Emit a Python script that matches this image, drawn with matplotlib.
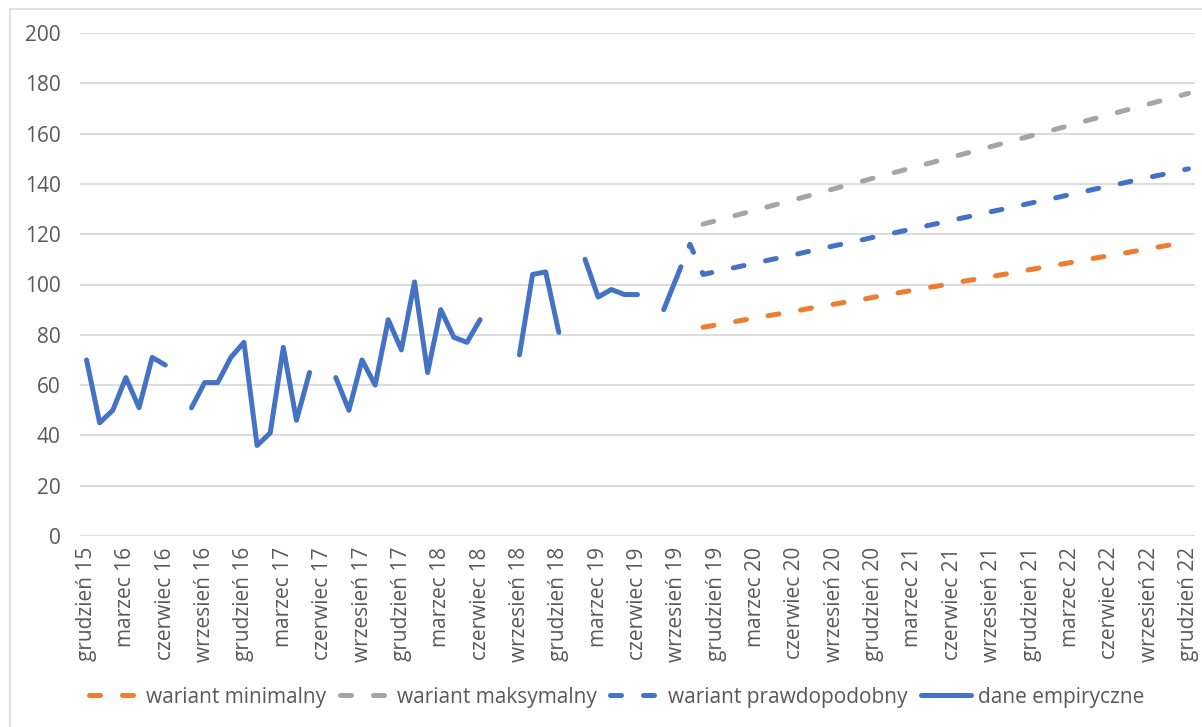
import numpy as np
import matplotlib.pyplot as plt
from matplotlib.patches import Rectangle

plt.rcParams['font.family'] = ['Open Sans', 'DejaVu Sans']

# miesiące od grudnia 2015 do grudnia 2022 (85 punktów na osi kategorii)
n_miesiecy = 85

dane_empiryczne = [70, 45, 50, 63, 51, 71, 68, np.nan, 51, 61, 61, 71, 77, 36, 41, 75,
                   46, 65, np.nan, 63, 50, 70, 60, 86, 74, 101, 65, 90, 79, 77, 86,
                   np.nan, np.nan, 72, 104, 105, 81, np.nan, 110, 95, 98, 96, 96,
                   np.nan, 90, 103]

start_prawdopodobny = 45
wariant_prawdopodobny = [103, 116,
                         104.0, 105.1, 106.3, 107.4, 108.5, 109.7, 110.8, 111.9, 113.1, 114.2,
                         115.4, 116.5, 117.6, 118.8, 119.9, 121.0, 122.2, 123.3, 124.4, 125.6,
                         126.7, 127.8, 129.0, 130.1, 131.2, 132.4, 133.5, 134.6, 135.8, 136.9,
                         138.1, 139.2, 140.3, 141.5, 142.6, 143.7, 144.9, 146.0]

start_wariantow = 47
wariant_minimalny = [83.0, 83.9, 84.8, 85.8, 86.7, 87.6, 88.5, 89.4, 90.4, 91.3,
                     92.2, 93.1, 94.0, 94.9, 95.9, 96.8, 97.7, 98.6, 99.5, 100.5,
                     101.4, 102.3, 103.2, 104.1, 105.1, 106.0, 106.9, 107.8, 108.7, 109.6,
                     110.6, 111.5, 112.4, 113.3, 114.2, 115.2, 116.1, 117.0]
wariant_maksymalny = [124.0, 125.4, 126.8, 128.2, 129.6, 131.0, 132.4, 133.8, 135.2, 136.6,
                      138.1, 139.5, 140.9, 142.3, 143.7, 145.1, 146.5, 147.9, 149.3, 150.7,
                      152.1, 153.5, 154.9, 156.3, 157.7, 159.1, 160.5, 161.9, 163.3, 164.8,
                      166.2, 167.6, 169.0, 170.4, 171.8, 173.2, 174.6, 176.0]

etykiety = ['grudzień 15', 'marzec 16', 'czerwiec 16', 'wrzesień 16', 'grudzień 16',
            'marzec 17', 'czerwiec 17', 'wrzesień 17', 'grudzień 17', 'marzec 18',
            'czerwiec 18', 'wrzesień 18', 'grudzień 18', 'marzec 19', 'czerwiec 19',
            'wrzesień 19', 'grudzień 19', 'marzec 20', 'czerwiec 20', 'wrzesień 20',
            'grudzień 20', 'marzec 21', 'czerwiec 21', 'wrzesień 21', 'grudzień 21',
            'marzec 22', 'czerwiec 22', 'wrzesień 22', 'grudzień 22']

pomaranczowy = '#ED7D31'
szary = '#A5A5A5'
niebieski = '#4472C4'
tekst = '#595959'

fig = plt.figure(figsize=(12.02, 7.27), dpi=100)
ax = fig.add_axes([80 / 1202, 1 - 536 / 727, 1115 / 1202, 503 / 727])

# ramka obszaru wykresu
fig.patches.append(Rectangle((10 / 1202, -0.05), 1.2, 1.05 - 9 / 727, transform=fig.transFigure,
                             fill=False, edgecolor='#D9D9D9', linewidth=1.2))

lw = 3.6
kreski = (2.2, 4.4)

x_min = np.arange(start_wariantow, start_wariantow + len(wariant_minimalny))
x_max = np.arange(start_wariantow, start_wariantow + len(wariant_maksymalny))
x_pr = np.arange(start_prawdopodobny, start_prawdopodobny + len(wariant_prawdopodobny))
x_emp = np.arange(len(dane_empiryczne))

ax.plot(x_min, wariant_minimalny, color=pomaranczowy, lw=lw, dashes=kreski,
        dash_capstyle='round', label='wariant minimalny')
ax.plot(x_max, wariant_maksymalny, color=szary, lw=lw, dashes=kreski,
        dash_capstyle='round', label='wariant maksymalny')
ax.plot(x_pr, wariant_prawdopodobny, color=niebieski, lw=lw, dashes=kreski,
        dash_capstyle='round', label='wariant prawdopodobny')
ax.plot(x_emp, dane_empiryczne, color=niebieski, lw=lw, solid_capstyle='round',
        solid_joinstyle='round', label='dane empiryczne')

ax.set_xlim(-0.5, n_miesiecy - 0.5)
ax.set_ylim(0, 200)
ax.set_yticks(np.arange(0, 201, 20))
ax.set_xticks(np.arange(0, n_miesiecy, 3))
ax.set_xticklabels(etykiety, rotation=90)
ax.tick_params(axis='both', length=0, colors=tekst, labelsize=15)
ax.tick_params(axis='y', pad=14)
ax.tick_params(axis='x', pad=8)
ax.grid(axis='y', color='#D9D9D9', linewidth=1.3)
ax.set_axisbelow(True)
for s in ax.spines.values():
    s.set_visible(False)

fig.legend(loc='center', bbox_to_anchor=(0.513, 1 - 697 / 727), ncol=4, frameon=False,
           fontsize=15, labelcolor=tekst, handlelength=2.4, handletextpad=0.35,
           columnspacing=0.65)

fig.savefig('out.png', dpi=100)
